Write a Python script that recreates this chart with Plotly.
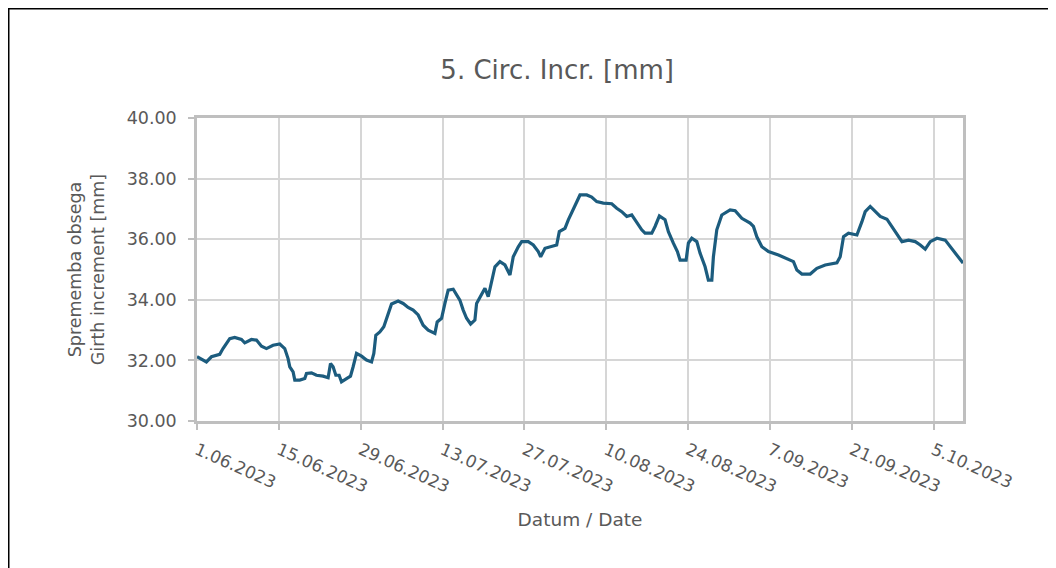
import pandas as pd
import plotly.graph_objects as go

# Days since 1.06.2023 and girth increment [mm]
day_offset = [0.0, 1.61, 2.47, 3.89, 4.45, 5.60, 6.45, 7.60, 8.17, 9.31, 10.17, 11.03, 11.88,
              13.01, 14.16, 15.01, 15.58, 15.87, 16.44, 16.73, 17.58, 18.44, 18.73, 19.59,
              20.44, 21.57, 22.43, 22.84, 23.28, 23.75, 24.31, 24.72, 25.58, 26.26, 26.71,
              27.29, 28.15, 29.0, 29.86, 30.25, 30.59, 31.28, 31.96, 32.70, 33.28, 34.41,
              35.27, 36.12, 36.98, 37.84, 38.69, 39.55, 40.70, 41.09, 41.84, 42.41, 42.97,
              43.83, 44.97, 45.54, 46.12, 46.81, 47.54, 47.83, 48.69, 49.26, 49.82, 50.40,
              50.97, 51.82, 52.68, 53.54, 54.10, 54.96, 55.54, 56.67, 57.53, 58.38, 58.79,
              59.53, 60.38, 61.53, 61.98, 62.95, 63.52, 64.37, 64.95, 65.52, 66.67, 67.52,
              68.38, 69.51, 70.95, 71.80, 72.66, 73.52, 74.37, 75.23, 76.08, 76.65, 77.80,
              78.36, 79.10, 80.07, 80.64, 81.49, 82.18, 82.64, 83.67, 84.06, 84.64, 85.50,
              86.06, 86.92, 87.48, 88.07, 88.34, 88.92, 89.78, 91.20, 92.06, 93.20, 94.62,
              95.19, 95.77, 96.63, 97.76, 99.47, 100.91, 102.04, 102.62, 103.48, 104.90,
              106.04, 107.47, 109.47, 110.03, 110.60, 111.45, 112.89, 113.75, 114.31,
              115.17, 116.02, 116.88, 118.03, 118.88, 119.74, 120.60, 121.73, 122.87,
              123.73, 124.58, 125.44, 126.59, 128.00, 128.86, 129.71, 130.57, 131.04]

girth_mm = [32.12, 31.95, 32.12, 32.20, 32.39, 32.72, 32.76, 32.69, 32.58, 32.69, 32.67, 32.47,
            32.39, 32.50, 32.54, 32.39, 32.06, 31.79, 31.62, 31.35, 31.35, 31.40, 31.57,
            31.59, 31.51, 31.48, 31.43, 31.90, 31.79, 31.51, 31.51, 31.29, 31.40, 31.48,
            31.79, 32.23, 32.14, 32.01, 31.95, 32.23, 32.83, 32.94, 33.11, 33.55, 33.86,
            33.96, 33.88, 33.75, 33.66, 33.50, 33.16, 33.00, 32.89, 33.27, 33.39, 33.88,
            34.32, 34.35, 33.99, 33.66, 33.39, 33.20, 33.33, 33.88, 34.21, 34.38, 34.10,
            34.60, 35.09, 35.26, 35.15, 34.82, 35.42, 35.75, 35.92, 35.92, 35.81, 35.59,
            35.42, 35.70, 35.75, 35.81, 36.25, 36.36, 36.64, 36.97, 37.19, 37.46, 37.46,
            37.39, 37.24, 37.19, 37.17, 37.02, 36.91, 36.75, 36.80, 36.53, 36.31, 36.20,
            36.20, 36.42, 36.77, 36.64, 36.25, 35.87, 35.59, 35.31, 35.31, 35.87, 36.03,
            35.92, 35.54, 35.09, 34.65, 34.65, 35.42, 36.31, 36.80, 36.97, 36.94, 36.69,
            36.53, 36.42, 36.08, 35.75, 35.59, 35.48, 35.37, 35.26, 34.98, 34.85, 34.85,
            35.04, 35.15, 35.22, 35.42, 36.08, 36.20, 36.14, 36.58, 36.91, 37.08, 36.91,
            36.75, 36.66, 36.42, 36.20, 35.92, 35.97, 35.92, 35.81, 35.67, 35.92, 36.03,
            35.97, 35.75, 35.54, 35.34, 35.21]

tick_dates = ["2023-06-01", "2023-06-15", "2023-06-29", "2023-07-13", "2023-07-27",
              "2023-08-10", "2023-08-24", "2023-09-07", "2023-09-21", "2023-10-05"]
tick_labels = ["1.06.2023", "15.06.2023", "29.06.2023", "13.07.2023", "27.07.2023",
               "10.08.2023", "24.08.2023", "7.09.2023", "21.09.2023", "5.10.2023"]

start = pd.Timestamp("2023-06-01")
dates = [start + pd.Timedelta(days=d) for d in day_offset]

FONT = "DejaVu Sans"
GREY = "#595959"
W, H = 1048, 560
L, R, T, B = 189, 93, 110, 147
PW, PH = W - L - R, H - T - B

fig = go.Figure()
fig.add_trace(go.Scatter(x=dates, y=girth_mm, mode="lines",
                         line=dict(color="#1c5c7e", width=3.2), showlegend=False))

fig.update_layout(
    width=W, height=H,
    margin=dict(l=L, r=R, t=T, b=B),
    paper_bgcolor="white", plot_bgcolor="white",
    font=dict(family=FONT, color=GREY, size=17),
    title=dict(text="5. Circ. Incr. [mm]", x=0.524, xref="container", xanchor="center",
               y=0.889, yref="container", yanchor="middle",
               font=dict(size=26, color=GREY, family=FONT)),
)

fig.update_xaxes(
    range=[start, start + pd.Timedelta(days=131.04)],
    tickvals=tick_dates, ticktext=tick_labels, tickangle=24,
    showgrid=True, gridcolor="#d6d6d6", gridwidth=1.5,
    showline=True, linecolor="#bfbfbf", linewidth=2.5, mirror=True,
    ticks="outside", ticklen=6, tickcolor="#bfbfbf", tickwidth=1.5,
    ticklabelstandoff=4,
    tickfont=dict(size=17, color=GREY),
    title=dict(text="Datum / Date", font=dict(size=18.5, color=GREY), standoff=18),
    zeroline=False,
)
fig.update_yaxes(
    range=[30, 40], dtick=2, tick0=30, tickformat=".2f",
    showgrid=True, gridcolor="#d6d6d6", gridwidth=1.5,
    showline=True, linecolor="#bfbfbf", linewidth=2.5, mirror=True,
    ticks="outside", ticklen=6, tickcolor="#bfbfbf", tickwidth=1.5,
    ticklabelstandoff=8,
    tickfont=dict(size=17.5, color=GREY),
    title=dict(text="Sprememba obsega<br>Girth increment [mm]",
               font=dict(size=17.5, color=GREY), standoff=18),
    zeroline=False,
)

# outer frame of the figure
fig.add_shape(type="rect", xref="paper", yref="paper",
              x0=(0.75 - L) / PW, x1=(1046 - L) / PW,
              y0=-0.62, y1=(H - B - 0.75) / PH,
              line=dict(color="black", width=1.5), fillcolor="rgba(0,0,0,0)", layer="below")

fig.write_html("out.html")
